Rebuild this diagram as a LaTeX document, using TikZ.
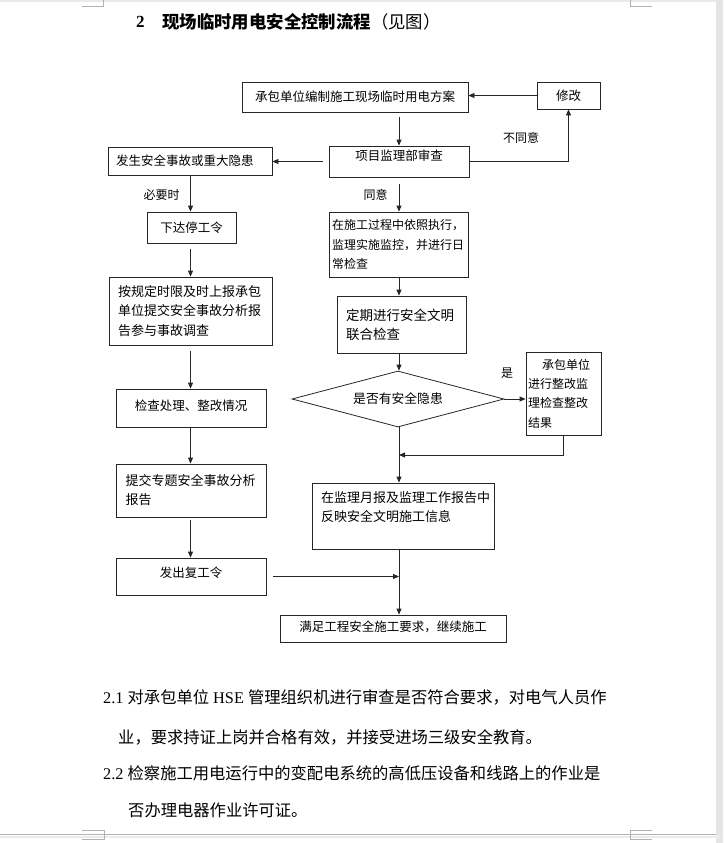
\documentclass[tikz,border=0pt]{standalone}
\usepackage{fontspec}
\setmainfont{Liberation Serif}
\newfontfamily\cjk{Noto Sans CJK SC}
\usetikzlibrary{positioning}
\usetikzlibrary{arrows.meta}
\usetikzlibrary{shapes.geometric}

\tikzset{
  flowbox/.style={draw=black!85, line width=0.8pt, rectangle, inner sep=0pt, align=center,
    font=\cjk\fontsize{12.5}{19.5}\selectfont},
  leftbox/.style={flowbox, align=left},
  flowarrow/.style={draw=black!85, line width=0.8pt, -{Triangle[length=6pt,width=5pt]}},
  flowlabel/.style={inner sep=0pt, font=\cjk\fontsize{12}{14}\selectfont},
  bodytext/.style={anchor=west, inner sep=0pt, font=\fontsize{16.3}{18}\selectfont},
  pagemark/.style={draw=black!30, line width=0.6pt}
}

\begin{document}
\begin{tikzpicture}[x=1pt, y=-1pt]
		\useasboundingbox (0,0) rectangle (723,843);

		% page edges
		\fill[black!8] (0,0) rectangle (723,2);
		\fill[black!10] (716,0) rectangle (723,843);
		\draw[pagemark] (82,6) -- (103,6) -- (103,0);
		\draw[pagemark] (630,0) -- (630,6) -- (652,6);
		\draw[pagemark] (0,834) -- (716,834);
		\fill[black!8] (0,836) rectangle (723,838);
		\draw[pagemark] (82,830) -- (104,830) -- (104,839) -- (82,839);
		\draw[pagemark] (652,830) -- (630,830) -- (630,839) -- (652,839);

		% heading
		\node[anchor=west, inner sep=0pt, font=\fontsize{17}{20}\selectfont\bfseries] (titlenum) at (136,22) {2};
		\node[anchor=west, inner sep=0pt, font=\cjk\fontsize{17.4}{20}\selectfont] (title) at (162,22) {\bfseries 现场临时用电安全控制流程\mdseries （见图）};

		% column lines
		\coordinate (col) at (399,0);
		\coordinate (lcol) at (190.5,0);
		\coordinate (merge) at (399,455);

		% top boxes
		\node[flowbox, minimum width=226pt, minimum height=30pt] (plan) at (355,97) {承包单位编制施工现场临时用电方案};
		\node[flowbox, minimum width=63pt, minimum height=27pt] (modify) at (568.5,95.5) {修改};
		\node[flowbox, minimum width=140pt, minimum height=31pt, text depth=12pt] (review) at (399,161.5) {项目监理部审查};
		\node[leftbox, text width=148pt, inner xsep=8pt, minimum height=28pt] (accident) at (190,161) {发生安全事故或重大隐患};

		% left column
		\node[flowbox, minimum width=89pt, minimum height=31pt] (stop) at (191.5,227.5) {下达停工令};
		\node[leftbox, text width=145pt, inner xsep=9pt, minimum height=68pt, font=\cjk\fontsize{13}{19.5}\selectfont] (report) at (190.5,311) {按规定时限及时上报承包\\单位提交安全事故分析报\\告参与事故调查};
		\node[flowbox, minimum width=150pt, minimum height=38pt, text depth=5pt] (checkfix) at (191,408) {检查处理、整改情况};
		\node[leftbox, text width=131pt, inner xsep=9.5pt, minimum height=53pt, font=\cjk\fontsize{13}{19}\selectfont] (special) at (191,490.5) {提交专题安全事故分析\\报告};
		\node[flowbox, minimum width=150pt, minimum height=37pt, text depth=8pt] (resume) at (191,576.5) {发出复工令};

		% right column
		\node[leftbox, text width=133pt, inner xsep=3pt, minimum height=65pt, font=\cjk\fontsize{12}{19.5}\selectfont] (execute) at (398.5,244.5) {在施工过程中依照执行，\\监理实施监控，并进行日\\常检查};
		\node[leftbox, text width=111pt, inner xsep=9pt, minimum height=57pt, font=\cjk\fontsize{13.5}{19}\selectfont] (joint) at (401.5,324.5) {定期进行安全文明\\联合检查};
		\node[diamond, draw=black!85, line width=0.8pt, aspect=3.8, minimum width=212pt, minimum height=56pt, inner sep=0pt,
			font=\cjk\fontsize{12.8}{15}\selectfont] (hazard) at (398,399) {是否有安全隐患};
		\node[leftbox, text width=71pt, inner xsep=2pt, minimum height=83pt, font=\cjk\fontsize{12}{19.3}\selectfont] (rectify) at (563.5,393.5) {\hspace*{14pt}承包单位\\进行整改监\\理检查整改\\结果};
		\node[leftbox, text width=164pt, inner xsep=9pt, minimum height=66pt, font=\cjk\fontsize{13}{19}\selectfont] (monthly) at (403,516) {在监理月报及监理工作报告中\\反映安全文明施工信息\\\mbox{}};
		\node[flowbox, minimum width=226pt, minimum height=27pt, text depth=5pt] (continue) at (393,628.5) {满足工程安全施工要求，继续施工};

		% labels
		\node[flowlabel] (disagree) at (521,138) {不同意};
		\node[flowlabel] (agree) at (375.5,195) {同意};
		\node[flowlabel] (needed) at (161.5,195) {必要时};
		\node[flowlabel] (yes) at (507,373) {是};

		% main column arrows
		\draw[flowarrow, shorten <=5pt] (col |- plan.south) -- (col |- review.north);
		\draw[flowarrow, shorten <=7pt] (col |- review.south) -- (col |- execute.north);
		\draw[flowarrow] (col |- execute.south) -- (col |- joint.north);
		\draw[flowarrow] (col |- joint.south) -- (col |- hazard.north);
		\draw[flowarrow] (col |- hazard.south) -- (col |- monthly.north);
		\draw[flowarrow] (col |- monthly.south) -- (col |- continue.north);

		% review branches
		\draw[flowarrow] (modify.west) -- (modify.west -| plan.east);
		\draw[flowarrow] (review.east) -| (modify.south);
		\draw[flowarrow, shorten <=6pt] (review.west) -- (review.west -| accident.east);

		% hazard branch
		\draw[flowarrow] (hazard.east) -- (hazard.east -| rectify.west);
		\draw[flowarrow] (rectify.south) |- (merge);

		% left column arrows
		\draw[flowarrow] (lcol |- accident.south) -- (lcol |- stop.north);
		\draw[flowarrow, shorten <=6pt] (lcol |- stop.south) -- (lcol |- report.north);
		\draw[flowarrow, shorten <=6pt] (lcol |- report.south) -- (lcol |- checkfix.north);
		\draw[flowarrow] (lcol |- checkfix.south) -- (lcol |- special.north);
		\draw[flowarrow, shorten <=3pt] (lcol |- special.south) -- (lcol |- resume.north);
		\draw[flowarrow, shorten <=7pt] (resume.east) -- (col |- resume.east);

		% notes below
		\node[bodytext] (item1a) at (103,697) {2.1 {\cjk 对承包单位} HSE {\cjk 管理组织机进行审查是否符合要求，对电气人员作}};
		\node[bodytext] (item1b) at (118,737) {\cjk 业，要求持证上岗并合格有效，并接受进场三级安全教育。};
		\node[bodytext] (item2a) at (103,773) {2.2 {\cjk 检察施工用电运行中的变配电系统的高低压设备和线路上的作业是}};
		\node[bodytext] (item2b) at (128,810) {\cjk 否办理电器作业许可证。};
	\end{tikzpicture}
\end{document}
